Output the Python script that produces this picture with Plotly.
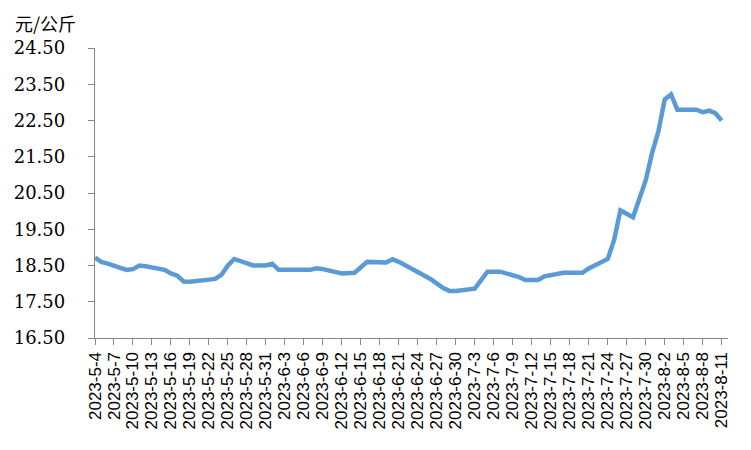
import plotly.graph_objects as go

# vertices of the price line (date, 元/公斤)
dates = [
    "2023-05-04", "2023-05-05", "2023-05-06", "2023-05-09", "2023-05-10", "2023-05-11",
    "2023-05-12", "2023-05-15", "2023-05-16", "2023-05-17", "2023-05-18", "2023-05-19",
    "2023-05-23", "2023-05-24", "2023-05-25", "2023-05-26", "2023-05-29", "2023-05-31",
    "2023-06-01", "2023-06-02", "2023-06-07", "2023-06-08", "2023-06-09", "2023-06-12",
    "2023-06-14", "2023-06-16", "2023-06-19", "2023-06-20", "2023-06-21", "2023-06-26",
    "2023-06-28", "2023-06-29", "2023-06-30", "2023-07-03", "2023-07-05", "2023-07-07",
    "2023-07-10", "2023-07-11", "2023-07-13", "2023-07-14", "2023-07-17", "2023-07-20",
    "2023-07-21", "2023-07-24", "2023-07-25", "2023-07-26", "2023-07-28", "2023-07-30",
    "2023-07-31", "2023-08-01", "2023-08-02", "2023-08-03", "2023-08-04", "2023-08-07",
    "2023-08-08", "2023-08-09", "2023-08-10", "2023-08-11",
]
prices = [
    18.72, 18.60, 18.55, 18.38, 18.40, 18.50,
    18.48, 18.38, 18.28, 18.22, 18.06, 18.05,
    18.13, 18.25, 18.50, 18.68, 18.50, 18.50,
    18.55, 18.38, 18.38, 18.42, 18.40, 18.28,
    18.30, 18.60, 18.58, 18.67, 18.60, 18.13,
    17.88, 17.80, 17.80, 17.86, 18.33, 18.33,
    18.18, 18.10, 18.10, 18.20, 18.30, 18.30,
    18.42, 18.68, 19.20, 20.02, 19.83, 20.85,
    21.60, 22.20, 23.08, 23.22, 22.80, 22.80,
    22.73, 22.77, 22.70, 22.50,
]

tick_dates = [
    "2023-05-04", "2023-05-07", "2023-05-10", "2023-05-13", "2023-05-16", "2023-05-19",
    "2023-05-22", "2023-05-25", "2023-05-28", "2023-05-31", "2023-06-03", "2023-06-06",
    "2023-06-09", "2023-06-12", "2023-06-15", "2023-06-18", "2023-06-21", "2023-06-24",
    "2023-06-27", "2023-06-30", "2023-07-03", "2023-07-06", "2023-07-09", "2023-07-12",
    "2023-07-15", "2023-07-18", "2023-07-21", "2023-07-24", "2023-07-27", "2023-07-30",
    "2023-08-02", "2023-08-05", "2023-08-08", "2023-08-11",
]
tick_labels = [
    "2023-5-4", "2023-5-7", "2023-5-10", "2023-5-13", "2023-5-16", "2023-5-19",
    "2023-5-22", "2023-5-25", "2023-5-28", "2023-5-31", "2023-6-3", "2023-6-6",
    "2023-6-9", "2023-6-12", "2023-6-15", "2023-6-18", "2023-6-21", "2023-6-24",
    "2023-6-27", "2023-6-30", "2023-7-3", "2023-7-6", "2023-7-9", "2023-7-12",
    "2023-7-15", "2023-7-18", "2023-7-21", "2023-7-24", "2023-7-27", "2023-7-30",
    "2023-8-2", "2023-8-5", "2023-8-8", "2023-8-11",
]
y_ticks = [16.5, 17.5, 18.5, 19.5, 20.5, 21.5, 22.5, 23.5, 24.5]

axis_grey = "#868686"

fig = go.Figure()
fig.add_trace(go.Scatter(
    x=dates, y=prices, mode="lines",
    line=dict(color="#5B9BD5", width=4.5),
    showlegend=False,
))

fig.update_xaxes(
    type="date",
    range=["2023-05-04", "2023-08-12"],
    tickmode="array", tickvals=tick_dates, ticktext=tick_labels,
    tickangle=-90,
    tickfont=dict(family="Liberation Sans", size=17, color="black"),
    showline=True, linecolor=axis_grey, linewidth=1.3,
    ticks="outside", ticklen=6, tickcolor=axis_grey,
    showgrid=False, zeroline=False,
)
fig.update_yaxes(
    range=[16.5, 24.5],
    tickmode="array", tickvals=y_ticks, ticktext=[f"{v:.2f}" for v in y_ticks],
    tickfont=dict(family="DejaVu Serif", size=18, color="black"),
    ticklabelstandoff=19,
    showline=True, linecolor=axis_grey, linewidth=1.3,
    ticks="outside", ticklen=6, tickcolor=axis_grey,
    showgrid=False, zeroline=False,
)

fig.add_annotation(
    text="元/公斤", xref="paper", yref="paper", x=-0.13, y=1.036,
    xanchor="left", yanchor="bottom", showarrow=False,
    font=dict(family="Noto Sans CJK SC", size=18, color="black"),
)

fig.update_layout(
    width=751, height=450,
    margin=dict(l=95, r=23, t=48, b=112),
    paper_bgcolor="white", plot_bgcolor="white",
)

# page body has a default 8px margin; remove it so the figure sits at 0,0
fig.write_html("out.html", config={"displayModeBar": False},
               post_script="document.body.style.margin='0';")
